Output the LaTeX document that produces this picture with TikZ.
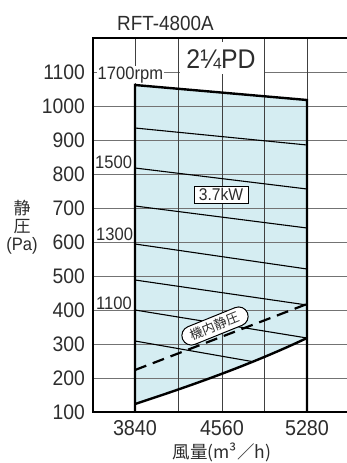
\documentclass[tikz,border=0pt]{standalone}
\usepackage{fontspec}
\setmainfont{Liberation Sans}
\newfontfamily\lab[FakeStretch=0.92]{Liberation Sans}
\newfontfamily\jp{Noto Sans CJK JP}
\definecolor{fillc}{RGB}{213,237,242}
\definecolor{txt}{RGB}{45,45,45}
\begin{document}
\begin{tikzpicture}[x=1pt,y=-1pt,
  hgrid/.style={black!55,line width=0.9pt},
  vgrid/.style={black!75,line width=0.9pt},
  rpmline/.style={black,line width=1.1pt},
  bound/.style={black,line width=2.4pt},
  ytick/.style={anchor=east,inner sep=0pt,font=\lab\fontsize{21}{21}\selectfont,text=txt},
  xtick/.style={anchor=base,inner sep=0pt,font=\lab\fontsize{21.5}{21.5}\selectfont,text=txt},
  rpmlab/.style={anchor=base west,inner sep=0pt,font=\lab\fontsize{18}{18}\selectfont,text=txt},
  jplab/.style={inner sep=0pt,font=\jp\fontsize{17}{17}\selectfont,text=txt}
]
\useasboundingbox[fill=white] (0,0) rectangle (347,463);
% region corners
\coordinate (tl) at (135,85);
\coordinate (tr) at (307,100);
\coordinate (br) at (307,338);
\coordinate (bl) at (135,404);
\coordinate (c1) at (250,365);
\coordinate (c2) at (190,386);
\fill[fillc] (tl) -- (tr) -- (br) .. controls (c1) and (c2) .. (bl) -- cycle;
% grid
\foreach \y in {72,106,140,174,208,242,276,310,344,378}
  \draw[hgrid] (93,\y) -- (347,\y);
\foreach \x in {178,222,264}
  \draw[vgrid] (\x,38) -- (\x,412);
\draw[vgrid] (135,38) -- (tl);
\draw[vgrid] (307,38) -- (tr);
% rpm lines
\draw[rpmline] (135,128) -- (307,145);
\draw[rpmline] (135,168) -- (307,189);
\draw[rpmline] (135,206) -- (307,228);
\draw[rpmline] (135,244) -- (307,269);
\draw[rpmline] (135,280) -- (307,305);
\draw[rpmline] (135,310) -- (br);
\draw[rpmline] (135,341) -- (252,361.5);
% boundaries
\draw[bound] (135,412) -- (tl) -- (tr) -- (307,412);
\draw[bound] (br) .. controls (c1) and (c2) .. (bl);
% frame
\draw[bound] (347,38) -- (93,38) -- (93,412) -- (347,412);
% dashed line
\coordinate (d1) at (135,370);
\coordinate (d2) at (307,304);
\draw[black,line width=2.2pt,dash pattern=on 12pt off 7pt] (d1) -- (d2);
% y ticks
\node[ytick] (y1100) at (85,72) {1100};
\node[ytick] (y1000) at (85,106) {1000};
\node[ytick] (y900) at (85,140) {900};
\node[ytick] (y800) at (85,174) {800};
\node[ytick] (y700) at (85,208) {700};
\node[ytick] (y600) at (85,242) {600};
\node[ytick] (y500) at (85,276) {500};
\node[ytick] (y400) at (85,310) {400};
\node[ytick] (y300) at (85,344) {300};
\node[ytick] (y200) at (85,378) {200};
\node[ytick] (y100) at (85,412) {100};
% x ticks
\node[xtick] (x1) at (135,435) {3840};
\node[xtick] (x2) at (222,435) {4560};
\node[xtick] (x3) at (307,435) {5280};
% rpm labels
\node[rpmlab,fill=white,inner sep=0.5pt] (r1700) at (97,79) {1700rpm};
\node[rpmlab] (r1500) at (95,168) {1500};
\node[rpmlab] (r1300) at (96,240) {1300};
\node[rpmlab] (r1100) at (96,309) {1100};
% model box
\node[fill=white,inner sep=0pt,minimum width=84,minimum height=32] (pdbox) at (221.5,58) {};
\node[anchor=base,inner sep=0pt,font=\lab\fontsize{27}{27}\selectfont,text=txt] (pd) at (221,68) {2¼PD};
% power box
\node[draw,fill=white,line width=0.8pt,minimum width=54,minimum height=17,inner sep=0pt,
  font=\lab\fontsize{17}{17}\selectfont,text=txt] (kw) at (221,194.5) {3.7kW};
% pill
\node[draw,fill=white,line width=1pt,rounded corners=9.5pt,minimum height=19,inner xsep=9pt,inner ysep=0pt,
  rotate=22,font=\jp\fontsize{13}{13}\selectfont,text=txt] (pill) at (215,326) {機内静圧};
% title
\node[anchor=base west,inner sep=0pt,font=\lab\fontsize{20.5}{20.5}\selectfont,text=txt] (title) at (117,30) {RFT-4800A};
% axis labels
\node[jplab] (ya) at (22,208) {静};
\node[jplab] (yb) at (22,227) {圧};
\node[inner sep=0pt,font=\lab\fontsize{18}{18}\selectfont,text=txt] (yc) at (22,246) {(Pa)};
\node[jplab,font=\jp\fontsize{17.5}{17.5}\selectfont] (xl) at (222,452) {風量(m³／h)};
\end{tikzpicture}
\end{document}
